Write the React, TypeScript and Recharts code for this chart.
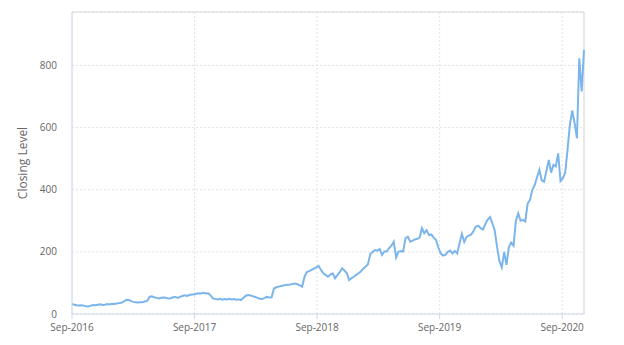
import { LineChart, Line, XAxis, YAxis, CartesianGrid, ReferenceLine } from "recharts"

// weekly closing levels, starting Sep-2016
const closingLevels = [
  32, 30, 28, 27, 28, 27, 25, 24, 27, 29,
  28, 30, 31, 29, 30, 32, 31, 33, 32, 34,
  35, 36, 40, 45, 46, 42, 39, 38, 37, 38,
  38, 40, 42, 55, 57, 54, 52, 50, 52, 53,
  52, 50, 51, 54, 55, 52, 55, 58, 60, 58,
  61, 63, 63, 65, 67, 66, 68, 66, 67, 60,
  50, 48, 47, 49, 46, 48, 47, 49, 47, 48,
  46, 47, 45, 52, 59, 61, 60, 57, 55, 52,
  49, 48, 52, 55, 53, 54, 82, 86, 88, 90,
  92, 93, 94, 95, 97, 98, 96, 92, 88, 120,
  135, 138, 142, 146, 150, 155, 142, 131, 126, 120,
  127, 131, 115, 125, 135, 147, 140, 132, 109, 115,
  120, 126, 131, 137, 146, 152, 160, 192, 200, 206,
  204, 209, 190, 201, 201, 212, 220, 233, 182, 200,
  203, 201, 244, 249, 233, 236, 240, 242, 246, 276,
  260, 270, 254, 256, 246, 238, 214, 195, 188, 190,
  200, 204, 195, 203, 195, 228, 258, 232, 248, 252,
  256, 268, 282, 284, 276, 272, 290, 304, 312, 292,
  268, 215, 170, 150, 200, 158, 215, 230, 220, 300,
  324, 300, 303, 298, 355, 367, 400, 415, 440, 464,
  430, 426, 460, 496, 455, 480, 475, 517, 428, 437,
  455, 530, 610, 655, 614, 566, 823, 716, 850,
]

// tick positions in weeks since Sep-2016
const xTicks = [0, 52.18, 104.36, 156.54, 208.71]
const xTickLabels = ["Sep-2016", "Sep-2017", "Sep-2018", "Sep-2019", "Sep-2020"]
const yTicks = [0, 200, 400, 600, 800]

const xMax = 218
const yMax = 972

const data = closingLevels.map((close, week) => ({ week, close }))

const tickStyle = { fontSize: 10, fill: "#666666", fontFamily: "Open Sans" }

export default function App() {
  return (
    <LineChart
      width={616}
      height={337}
      data={data}
      margin={{ top: 4, right: 40, bottom: 1, left: 4 }}
      style={{ fontFamily: "Open Sans" }}
    >
      <CartesianGrid strokeDasharray="2 2" stroke="#e2e2e2" />
      <XAxis
        dataKey="week"
        type="number"
        domain={[0, xMax]}
        ticks={xTicks}
        interval={0}
        tickFormatter={(_v, i) => xTickLabels[i]}
        stroke="#ccd6eb"
        tick={tickStyle}
        tickSize={5}
        tickMargin={5}
        height={30}
      />
      <YAxis
        type="number"
        domain={[0, yMax]}
        ticks={yTicks}
        stroke="#ccd6eb"
        tick={tickStyle}
        tickLine={false}
        tickSize={6}
        tickMargin={9}
        width={60}
        label={{
          value: "Closing Level",
          angle: -90,
          position: "insideLeft",
          offset: 11,
          style: { textAnchor: "middle", fill: "#666666", fontSize: 12, fontFamily: "Open Sans" },
        }}
      />
      <ReferenceLine y={yMax} stroke="#d8d8d8" />
      <ReferenceLine x={xMax} stroke="#d8d8d8" />
      <Line
        type="linear"
        dataKey="close"
        stroke="#7cb5ec"
        strokeWidth={2}
        dot={false}
        isAnimationActive={false}
      />
    </LineChart>
  )
}
